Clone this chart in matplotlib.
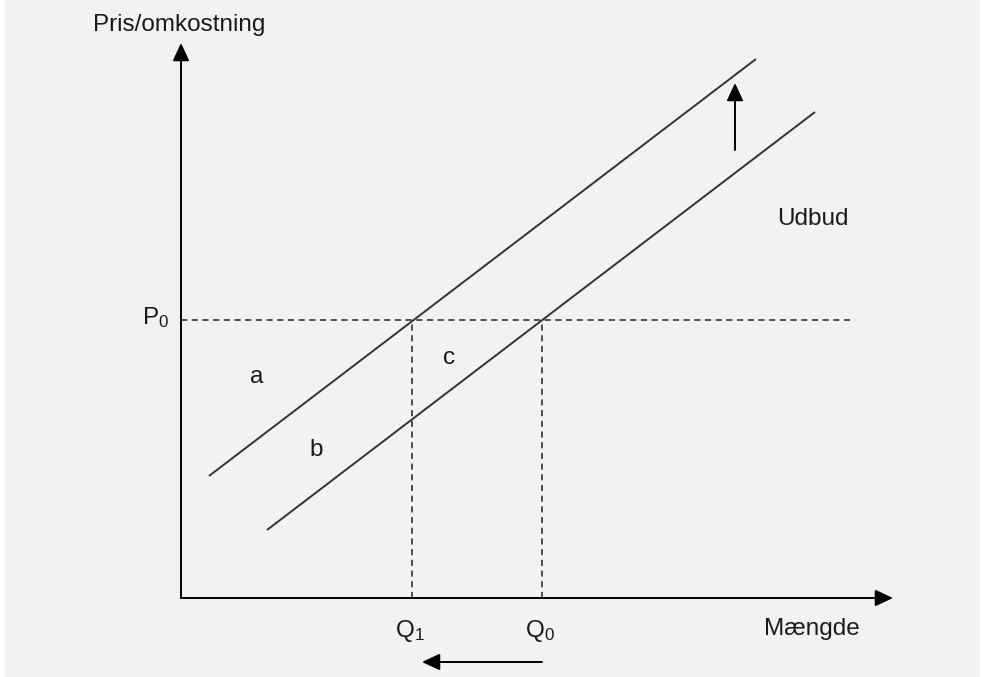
import matplotlib.pyplot as plt
from matplotlib.patches import Rectangle

plt.rcParams["font.family"] = ["Liberation Sans", "DejaVu Sans"]
plt.rcParams["mathtext.fontset"] = "custom"
plt.rcParams["mathtext.rm"] = "Liberation Sans"
plt.rcParams["mathtext.it"] = "Liberation Sans"

# diagram values (quantity, price) in arbitrary units
axis_q_max = 14.24
axis_p_max = 11.1
p0 = 5.56
q1 = 4.62
q0 = 7.22
dashed_p_end = 13.48

supply_old_q = [1.72, 12.68]
supply_old_p = [1.36, 9.72]
supply_new_q = [0.56, 11.5]
supply_new_p = [2.44, 10.78]

shift_up_q = [11.08, 11.08]
shift_up_p = [8.96, 10.30]
shift_left_q = [q0, 4.82]
shift_left_p = [-1.28, -1.28]

area_labels = ["a", "b", "c"]
area_q = [1.52, 2.70, 5.36]
area_p = [4.42, 2.96, 4.80]

line_col = "#333333"
fs = 17.5

fig = plt.figure(figsize=(9.83, 6.77), dpi=100, facecolor="white")
fig.patches.append(Rectangle((5 / 983, 0), 975 / 983, 1, transform=fig.transFigure,
                             facecolor="#f2f2f2", edgecolor="none", zorder=-5))
ax = fig.add_axes([0, 0, 1, 1])
ax.set_xlim(-3.62, 16.04)
ax.set_ylim(-1.58, 11.96)
ax.axis("off")
ax.patch.set_alpha(0)

arrow = dict(arrowstyle="-|>,head_length=0.6,head_width=0.28", mutation_scale=18,
             lw=1.4, color="black", shrinkA=0, shrinkB=0)

# axes
ax.annotate("", xy=(0, axis_p_max), xytext=(0, 0), arrowprops=arrow)
ax.annotate("", xy=(axis_q_max, 0), xytext=(0, 0), arrowprops=arrow)

# dashed guides
ax.plot([0, dashed_p_end], [p0, p0], ls=(0, (4, 3)), color="#222222", lw=1.1)
ax.plot([q1, q1], [0, p0], ls=(0, (4, 3)), color="#222222", lw=1.1)
ax.plot([q0, q0], [0, p0], ls=(0, (4, 3)), color="#222222", lw=1.1)

# supply curves
ax.plot(supply_old_q, supply_old_p, color=line_col, lw=1.4, solid_capstyle="butt")
ax.plot(supply_new_q, supply_new_p, color=line_col, lw=1.4, solid_capstyle="butt")

# shift arrows
ax.annotate("", xy=(shift_up_q[1], shift_up_p[1]), xytext=(shift_up_q[0], shift_up_p[0]),
            arrowprops=arrow)
ax.annotate("", xy=(shift_left_q[1], shift_left_p[1]), xytext=(shift_left_q[0], shift_left_p[0]),
            arrowprops=arrow)

# texts
tc = "#1a1a1a"
ax.text(-0.04, 11.46, "Pris/omkostning", fontsize=fs, color=tc, ha="center", va="center")
ax.text(12.62, -0.62, "Mængde", fontsize=fs, color=tc, ha="center", va="center")
ax.text(12.64, 7.58, "Udbud", fontsize=fs, color=tc, ha="center", va="center")
ax.text(-0.5, p0 + 0.04, r"P$_\mathrm{0}$", fontsize=fs, color=tc, ha="center", va="center")
ax.text(q1 - 0.04, -0.66, r"Q$_\mathrm{1}$", fontsize=fs, color=tc, ha="center", va="center")
ax.text(q0 - 0.04, -0.66, r"Q$_\mathrm{0}$", fontsize=fs, color=tc, ha="center", va="center")
for lab, q, p in zip(area_labels, area_q, area_p):
    ax.text(q, p, lab, fontsize=fs, color=tc, ha="center", va="center")

fig.savefig("out.png", dpi=100, facecolor=fig.get_facecolor())
